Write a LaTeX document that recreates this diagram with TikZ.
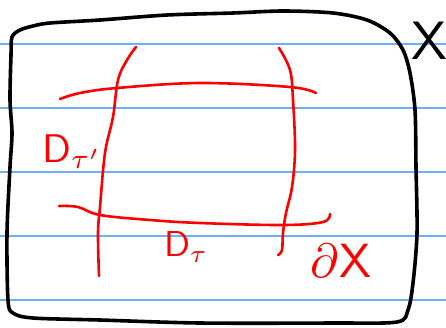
\documentclass[tikz,border=0pt]{standalone}
\usepackage{tikz}
\definecolor{ruled}{RGB}{110,175,250}
\definecolor{ink}{RGB}{255,0,0}
\begin{document}
\begin{tikzpicture}[x=1pt,y=-1pt,
  ruleline/.style={ruled,line width=1.6pt},
  outline/.style={black,line width=3.6pt,line cap=round,line join=round},
  redstroke/.style={ink,line width=2.6pt,line cap=round,line join=round},
  redlabel/.style={ink,inner sep=0pt},
  blacklabel/.style={black,inner sep=0pt}]
\useasboundingbox (0,0) rectangle (446,327);
\fill[white] (0,0) rectangle (446,327);
% ruled lines
\foreach \yy in {44,108,172,236,300}
  \draw[ruleline] (0,\yy) -- (446,\yy);
% outline of X
\draw[outline] plot[smooth cycle,tension=0.5] coordinates {
  (12,37) (20,30) (33,26) (50,23) (100,20) (167,15) (233,13) (283,11) (333,13)
  (367,20) (390,33) (403,50) (410,73) (415,110) (416,167) (417,233) (413,283)
  (408,310) (397,322) (333,323) (200,323) (100,320) (33,318) (13,313) (8,300)
  (7,233) (10,167) (12,133) (10,100) (11,55)};
% red strokes
\draw[redstroke] plot[smooth,tension=0.6] coordinates {(60,99) (80,93) (117,88) (200,83) (290,87) (316,93)};
\draw[redstroke] plot[smooth,tension=0.6] coordinates {(59,206) (78,207) (100,215) (150,220) (200,223) (283,225) (323,222) (330,214)};
\draw[redstroke] plot[smooth,tension=0.6] coordinates {(136,47) (127,60) (118,80) (113,117) (105,153) (100,207) (98,233) (99,276)};
\draw[redstroke] plot[smooth,tension=0.6] coordinates {(279,48) (290,70) (293,100) (295,150) (292,187) (286,213) (283,233) (282,250) (278,255)};
% labels
\node[redlabel,scale=4.0] (dtp) at (72,152) {$\mathsf{D}_{\tau'}$};
\node[redlabel,scale=3.6] (dt) at (186,247) {$\mathsf{D}_{\tau}$};
\node[redlabel,scale=4.8] (bx) at (341,261) {$\partial\mathsf{X}$};
\node[blacklabel,scale=5.4] (xx) at (429,41) {$\mathsf{X}$};
\end{tikzpicture}
\end{document}
